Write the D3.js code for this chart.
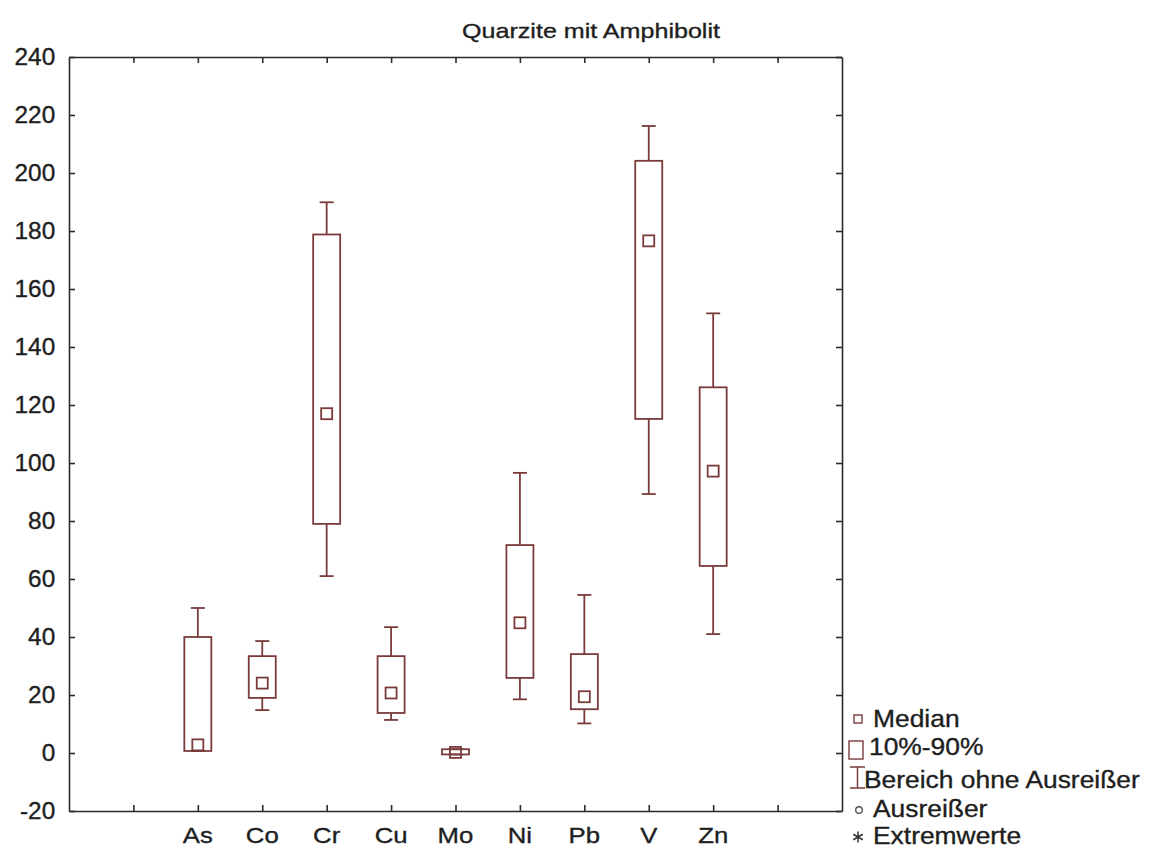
<!DOCTYPE html>
<html>
<head>
<meta charset="utf-8">
<script src="https://cdn.jsdelivr.net/npm/d3@7"></script>
<style>
  body { margin: 0; background: #fff; }
  text { font-family: "Liberation Sans", Arial, sans-serif; fill: #1e1e1e; stroke: #1e1e1e; stroke-width: 0.35px; }
</style>
</head>
<body>
<div id="chart"></div>
<script>
// values
var categories = ["As", "Co", "Cr", "Cu", "Mo", "Ni", "Pb", "V", "Zn"];
var whiskerLow  = [0.7, 14.8, 61.0, 11.4, -0.5, 18.5, 10.2, 89.3, 41.0];
var q10         = [0.7, 19.0, 79.0, 13.8, -0.5, 25.9, 15.1, 115.2, 64.5];
var median      = [2.8, 24.1, 117.0, 20.7, 0.2, 44.9, 19.4, 176.6, 97.2];
var q90         = [40.0, 33.4, 178.8, 33.4, 1.3, 71.7, 34.1, 204.2, 126.1];
var whiskerHigh = [50.0, 38.6, 189.9, 43.4, 1.3, 96.6, 54.5, 216.2, 151.6];
var yTicks = [-20, 0, 20, 40, 60, 80, 100, 120, 140, 160, 180, 200, 220, 240];
var xTicks = [1, 2, 3, 4, 5, 6, 7, 8, 9, 10, 11];
var legendLabels = ["Median", "10%-90%", "Bereich ohne Ausreißer", "Ausreißer", "Extremwerte"];

var W = 1149, H = 848;
var margin = {top: 57, right: 307, bottom: 37, left: 69},
    width = W - margin.left - margin.right,
    height = H - margin.top - margin.bottom;

var boxColor = "#7a3b3b", axisColor = "#2b2b2b";

var svg = d3.select("#chart").append("svg")
    .attr("width", W)
    .attr("height", H);

var g = svg.append("g")
    .attr("transform", "translate(" + margin.left + "," + margin.top + ")");

var x = d3.scaleLinear().domain([0, 12]).range([0, width]);
var y = d3.scaleLinear().domain([-20, 240]).range([height, 0]);

// axes, ticks pointing inward on all four sides
var styleAxis = function(sel) {
    sel.selectAll("path, line").attr("stroke", axisColor).attr("stroke-width", 1.6);
};

g.append("g")
    .call(d3.axisLeft(y).tickValues(yTicks).tickSizeInner(-6).tickSizeOuter(0).tickPadding(13)
        .tickFormat(function(d) { return String(d); }))
    .call(styleAxis)
    .call(function(a) {
        a.selectAll("text")
            .attr("fill", null)
            .attr("font-family", null)
            .style("font-size", "23px")
            .attr("transform", "scale(1.06,1)");
    });

g.append("g")
    .attr("transform", "translate(" + width + ",0)")
    .call(d3.axisRight(y).tickValues(yTicks).tickSizeInner(-6).tickSizeOuter(0).tickFormat(""))
    .call(styleAxis);

g.append("g")
    .attr("transform", "translate(0," + height + ")")
    .call(d3.axisBottom(x).tickValues(xTicks).tickSizeInner(-6).tickSizeOuter(0).tickFormat(""))
    .call(styleAxis);

g.append("g")
    .call(d3.axisTop(x).tickValues(xTicks).tickSizeInner(-6).tickSizeOuter(0).tickFormat(""))
    .call(styleAxis);

// category labels
g.selectAll(".cat")
    .data(categories)
  .enter().append("text")
    .attr("class", "cat")
    .attr("transform", function(d, i) { return "translate(" + x(i + 2) + "," + (H - margin.top - 5) + ") scale(1.12,1)"; })
    .attr("text-anchor", "middle")
    .style("font-size", "23px")
    .text(function(d) { return d; });

// title
svg.append("text")
    .attr("x", 591)
    .attr("y", 38)
    .attr("text-anchor", "middle")
    .attr("textLength", 258)
    .attr("lengthAdjust", "spacingAndGlyphs")
    .style("font-size", "21px")
    .text("Quarzite mit Amphibolit");

// boxes
var boxW = 27, capW = 14, medS = 11;
var boxes = g.selectAll(".box")
    .data(categories)
  .enter().append("g")
    .attr("class", "box")
    .attr("transform", function(d, i) { return "translate(" + x(i + 2) + ",0)"; });

boxes.append("line")
    .attr("x1", 0).attr("x2", 0)
    .attr("y1", function(d, i) { return y(q90[i]); })
    .attr("y2", function(d, i) { return y(whiskerHigh[i]); })
    .attr("stroke", boxColor).attr("stroke-width", 1.8);

boxes.append("line")
    .attr("x1", 0).attr("x2", 0)
    .attr("y1", function(d, i) { return y(q10[i]); })
    .attr("y2", function(d, i) { return y(whiskerLow[i]); })
    .attr("stroke", boxColor).attr("stroke-width", 1.8);

boxes.append("line")
    .attr("x1", -capW / 2).attr("x2", capW / 2)
    .attr("y1", function(d, i) { return y(whiskerHigh[i]); })
    .attr("y2", function(d, i) { return y(whiskerHigh[i]); })
    .attr("stroke", boxColor).attr("stroke-width", 1.8);

boxes.append("line")
    .attr("x1", -capW / 2).attr("x2", capW / 2)
    .attr("y1", function(d, i) { return y(whiskerLow[i]); })
    .attr("y2", function(d, i) { return y(whiskerLow[i]); })
    .attr("stroke", boxColor).attr("stroke-width", 1.8);

boxes.append("rect")
    .attr("x", -boxW / 2)
    .attr("width", boxW)
    .attr("y", function(d, i) { return y(q90[i]); })
    .attr("height", function(d, i) { return y(q10[i]) - y(q90[i]); })
    .attr("fill", "none")
    .attr("stroke", boxColor).attr("stroke-width", 1.8);

boxes.append("rect")
    .attr("x", -medS / 2)
    .attr("width", medS)
    .attr("y", function(d, i) { return y(median[i]) - medS / 2; })
    .attr("height", medS)
    .attr("fill", "none")
    .attr("stroke", boxColor).attr("stroke-width", 1.8);

// legend
var legY = [727, 755, 788, 817, 844];
var legend = svg.append("g");

legend.append("rect")
    .attr("x", 854).attr("y", legY[0] - 12).attr("width", 8).attr("height", 8)
    .attr("fill", "none").attr("stroke", boxColor).attr("stroke-width", 1.4);

legend.append("rect")
    .attr("x", 849).attr("y", legY[1] - 14).attr("width", 14).attr("height", 18)
    .attr("fill", "none").attr("stroke", boxColor).attr("stroke-width", 1.4);

legend.append("path")
    .attr("d", "M850," + (legY[2] - 21) + "H865M857.5," + (legY[2] - 21) + "V" + legY[2] + "M850," + legY[2] + "H865")
    .attr("fill", "none").attr("stroke", boxColor).attr("stroke-width", 1.5);

legend.append("circle")
    .attr("cx", 859).attr("cy", legY[3] - 7).attr("r", 3.3)
    .attr("fill", "none").attr("stroke", "#555").attr("stroke-width", 1.4);

// asterisk marker for Extremwerte
var ax = 858, ay = legY[4] - 7, ar = 5.5;
legend.append("path")
    .attr("d", [0, 60, 120].map(function(a) {
        var r = a * Math.PI / 180;
        return "M" + (ax - ar * Math.sin(r)) + "," + (ay - ar * Math.cos(r)) +
               "L" + (ax + ar * Math.sin(r)) + "," + (ay + ar * Math.cos(r));
    }).join(""))
    .attr("stroke", "#333").attr("stroke-width", 1.5).attr("fill", "none");

var legTextX = [873, 869, 864, 873, 873];
legend.selectAll(".legtext")
    .data(legendLabels)
  .enter().append("text")
    .attr("class", "legtext")
    .attr("transform", function(d, i) { return "translate(" + legTextX[i] + "," + legY[i] + ") scale(1.1,1)"; })
    .style("font-size", "24px")
    .text(function(d) { return d; });
</script>
</body>
</html>
